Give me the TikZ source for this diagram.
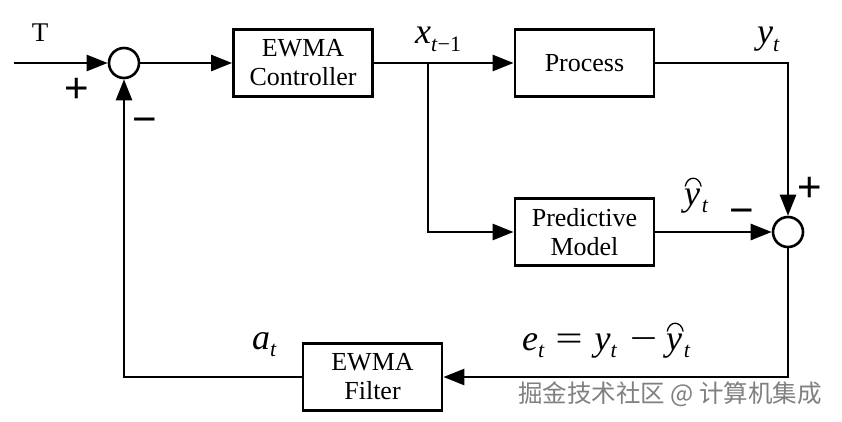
\documentclass[tikz,border=0pt]{standalone}
\usepackage{fontspec}
\setmainfont{Liberation Serif}
\newfontfamily\sansf{Liberation Sans}
\newfontfamily\cjk{Noto Sans CJK SC}
\usetikzlibrary{arrows.meta}
\newcommand\subs[1]{\raisebox{-0.22em}{\fontsize{22}{22}\selectfont #1}}
\newcommand\yhat{\tikz[baseline=(yh.base)]{\node[inner sep=0pt,outer sep=0pt](yh){\itshape y};
  \draw[line width=1.3pt] ([xshift=1pt,yshift=2pt]yh.north west) .. controls ([xshift=3pt,yshift=13pt]yh.north west) and ([xshift=-1pt,yshift=13pt]yh.north east) .. ([xshift=1pt,yshift=2pt]yh.north east);}}
\begin{document}
\begin{tikzpicture}[x=1pt,y=-1pt,
  blk/.style={draw,line width=2.8pt,minimum width=139pt,minimum height=67pt,align=center,font=\fontsize{26}{29}\selectfont,inner sep=0pt},
  sumc/.style={draw,circle,line width=2.6pt,minimum size=30pt,inner sep=0pt},
  arr/.style={line width=2.6pt,-{Triangle[length=21pt,width=16pt]}},
  lbl/.style={inner sep=0pt,font=\fontsize{36}{36}\selectfont\itshape},
  sgn/.style={inner sep=0pt,font=\sansf\fontsize{42}{42}\selectfont},
  wmk/.style={inner sep=0pt,font=\cjk\fontsize{24.5}{24.5}\selectfont,text=black!50}]
\useasboundingbox (0,0) rectangle (842,422);
\fill[white] (0,0) rectangle (842,422);
\coordinate (in) at (14,63);
\node[sumc] (s1) at (124,63) {};
\node[blk] (ctrl) at (303,63) {EWMA\\Controller};
\node[blk] (proc) at (584.5,63) {Process};
\node[blk] (pred) at (584.5,232) {Predictive\\Model};
\node[sumc] (s2) at (788,232) {};
\node[blk] (filt) at (372.5,377) {EWMA\\Filter};
\coordinate (j) at (428,63);
\draw[arr] (in) -- (s1);
\draw[arr] (s1) -- (ctrl);
\draw[arr] (ctrl) -- (proc);
\draw[arr] (j) |- (pred);
\draw[arr] (proc) -| (s2);
\draw[arr] (pred) -- (s2);
\draw[arr] (s2) |- (filt);
\draw[arr] (filt) -| (s1);
\node[inner sep=0pt,font=\fontsize{27}{27}\selectfont] (T) at (40,33) {T};
\node[sgn] (p1) at (77,90) {+};
\node[sgn] (m1) at (145,126) {−};
\node[sgn] (m2) at (742,217) {−};
\node[sgn] (p2) at (810,189) {+};
\node[lbl,anchor=base west] (xl) at (415,44) {x\subs{t\textup{−1}}};
\node[lbl,anchor=base west] (yl) at (757,44) {y\subs{t}};
\node[lbl,anchor=base west] (yhl) at (684,205) {\yhat\subs{t}};
\node[lbl,anchor=base west] (al) at (252,349) {a\subs{t}};
\node[lbl,anchor=base west] (el) at (522,350) {e\subs{t}\hspace{11pt}\scalebox{1.35}[1]{\upshape =}\hspace{12pt}y\subs{t}\hspace{13pt}\scalebox{1.35}[1]{\upshape −}\hspace{9pt}\yhat\subs{t}};
\node[wmk,anchor=west] (wm) at (518,394) {掘金技术社区 @ 计算机集成};
\end{tikzpicture}
\end{document}
